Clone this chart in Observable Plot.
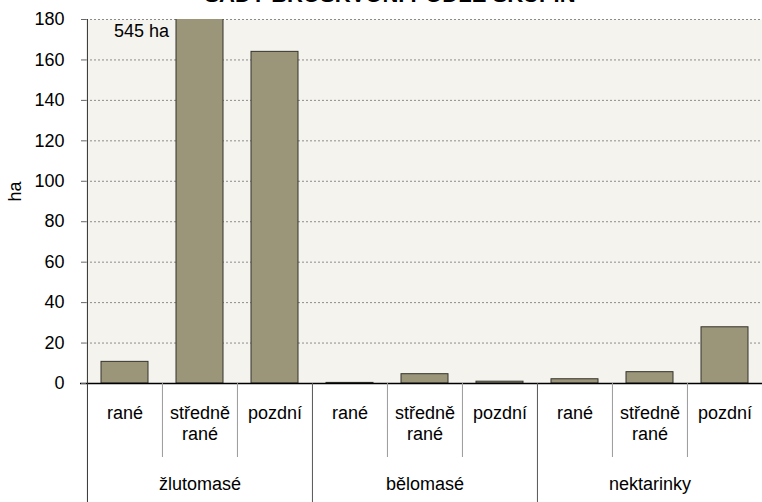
<!DOCTYPE html>
<html><head><meta charset="utf-8">
<script src="https://cdn.jsdelivr.net/npm/d3@7"></script>
<script src="https://cdn.jsdelivr.net/npm/@observablehq/plot@0.6"></script>
<style>
body{margin:0;background:#fff;font-family:"Liberation Sans",Arial,sans-serif;}
#wrap{position:relative;width:762px;height:502px;overflow:hidden;}
#title{position:absolute;left:0;width:780px;top:-15.6px;text-align:center;font-weight:bold;font-size:22px;line-height:22px;white-space:nowrap;color:#000;}
</style></head><body><div id="wrap"><div id="chart"></div><div id="title"></div></div>
<script>
const title = "SADY BROSKVONÍ PODLE SKUPIN";
const groups = ["žlutomasé", "bělomasé", "nektarinky"];
const ripeness = ["rané", "středně\nrané", "pozdní"];
const values = [10.7, 545, 164, 0.3, 4.6, 0.9, 2.1, 5.6, 27.8];
const yTicks = [0, 20, 40, 60, 80, 100, 120, 140, 160, 180];
const yLabel = "ha";
const unit = "ha";

document.getElementById("title").textContent = title;

const rows = groups.flatMap((g, gi) => ripeness.map((r, ri) => ({
  group: g, ripe: r, gi, ri, key: g + "|" + r, value: values[gi * 3 + ri]
})));
const keys = rows.map(r => r.key);

const W = 762, H = 502, mL = 86, mR = 0, mT = 19, mB = 119;
const bw = (W - mL - mR) / keys.length;
const plotH = H - mT - mB;
const inset = 14;

const chart = Plot.plot({
  width: W, height: H,
  marginLeft: mL, marginRight: mR, marginTop: mT, marginBottom: mB,
  style: {fontFamily: '"Liberation Sans", Arial, sans-serif', fontSize: "18px", background: "#fff", color: "#000"},
  x: {type: "band", domain: keys, padding: 0, axis: null},
  y: {domain: [yTicks[0], yTicks[yTicks.length - 1]], axis: null},
  marks: [
    Plot.frame({fill: "#f4f3ee", stroke: null}),
    Plot.gridY(yTicks.filter(d => d > 0), {stroke: "#8c8c8c", strokeOpacity: 1, strokeDasharray: "2,2"}),
    Plot.barY(rows, {x: "key", y: "value", fill: "#9b957a", stroke: "#33332b", strokeWidth: 1, insetLeft: inset, insetRight: inset, clip: true}),
    Plot.ruleY([0], {stroke: "#000", strokeWidth: 1.5, insetLeft: -6}),
    Plot.axisY({ticks: yTicks, tickSize: 5, tickPadding: 17, stroke: "#666", label: null, fontSize: 18}),
    Plot.ruleX([keys[0]], {dx: -bw / 2, stroke: "#333", insetBottom: -mB}),
    Plot.ruleX(rows.filter(r => r.ri === 0 && r.gi > 0), {x: "key", dx: -bw / 2, stroke: "#555", insetTop: plotH, insetBottom: -mB}),
    Plot.ruleX(rows.filter(r => r.ri > 0), {x: "key", dx: -bw / 2, stroke: "#999", insetTop: plotH, insetBottom: -74}),
    Plot.text(rows, {x: "key", text: "ripe", frameAnchor: "bottom", lineAnchor: "top", dy: 20.5, lineHeight: 1.17}),
    Plot.text(rows.filter(r => r.ri === 1), {x: "key", text: "group", frameAnchor: "bottom", lineAnchor: "top", dy: 94}),
    Plot.text([yLabel], {frameAnchor: "left", rotate: -90, dx: -71, text: d => d}),
    Plot.text(rows.filter(r => r.value > yTicks[yTicks.length - 1]), {x: "key", frameAnchor: "top", text: r => `${r.value} ${unit}`, textAnchor: "end", lineAnchor: "top", dx: -31, dy: 4.5})
  ]
});
document.getElementById("chart").appendChild(chart);
</script></body></html>
